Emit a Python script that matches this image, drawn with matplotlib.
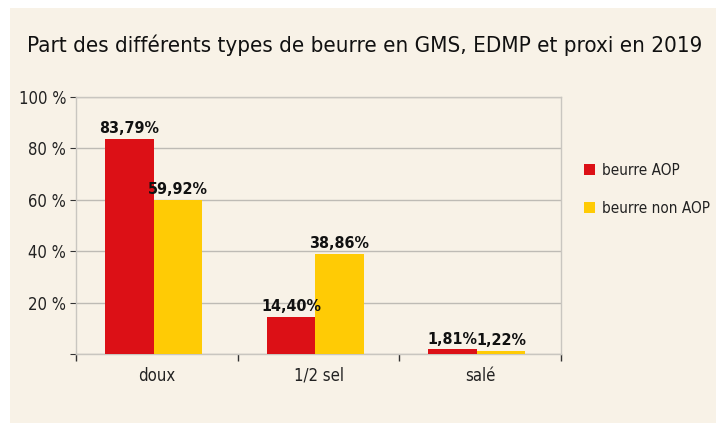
import numpy as np
import matplotlib.pyplot as plt
from matplotlib.patches import Rectangle

# données
categories = ["doux", "1/2 sel", "salé"]
aop = [83.79, 14.40, 1.81]
non_aop = [59.92, 38.86, 1.22]
aop_labels = ["83,79%", "14,40%", "1,81%"]
non_aop_labels = ["59,92%", "38,86%", "1,22%"]
series_names = ["beurre AOP", "beurre non AOP"]
yticks = [0, 20, 40, 60, 80, 100]
ytick_labels = ["", "20 %", "40 %", "60 %", "80 %", "100 %"]

BG = "#F8F2E7"
RED = "#DC1016"
YELLOW = "#FFCB05"
GRID = "#BEBBB5"

plt.rcParams["font.family"] = ["DejaVu Sans"]
plt.rcParams["font.stretch"] = "condensed"

fig = plt.figure(figsize=(7.16, 4.23), dpi=100)
fig.patch.set_facecolor("white")
bg = Rectangle((10 / 716, 0), 1, (423 - 8) / 423, transform=fig.transFigure,
               facecolor=BG, edgecolor="none", zorder=-10)
fig.add_artist(bg)

fig.text(27 / 716, 1 - 45 / 423, "Part des différents types de beurre en GMS, EDMP et proxi en 2019",
         fontsize=16, color="#111111", va="center", ha="left")

ax = fig.add_axes([76 / 716, (423 - 354) / 423, 485 / 716, 257 / 423])
ax.set_facecolor(BG)

x = np.arange(len(categories))
w = 0.3
b1 = ax.bar(x - w / 2 - 0.02, aop, w, color=RED, label=series_names[0], zorder=3)
b2 = ax.bar(x + w / 2 - 0.02, non_aop, w, color=YELLOW, label=series_names[1], zorder=3)

for bars, labels in ((b1, aop_labels), (b2, non_aop_labels)):
    for bar, lab in zip(bars, labels):
        ax.annotate(lab, (bar.get_x() + bar.get_width() / 2, bar.get_height()),
                    xytext=(0, 2), textcoords="offset points", ha="center", va="bottom",
                    fontsize=11.5, fontweight="bold", color="#111111", zorder=4)

ax.set_xlim(-0.5, 2.5)
ax.set_ylim(0, 100)
ax.set_yticks(yticks)
ax.set_yticklabels(ytick_labels)
ax.yaxis.grid(True, color=GRID, linewidth=1, zorder=1)
ax.tick_params(axis="y", length=4, color="#333333", labelsize=12, labelcolor="#222222", pad=3)

ax.set_xticks(x)
ax.set_xticklabels(categories)
ax.set_xticks([-0.5, 0.5, 1.5, 2.5], minor=True)
ax.tick_params(axis="x", which="major", length=0, labelsize=12, labelcolor="#222222", pad=9)
ax.tick_params(axis="x", which="minor", length=5, color="#333333", width=1)

for s in ax.spines.values():
    s.set_color("#C9C6C0")
    s.set_linewidth(1)

leg = fig.legend(loc="upper left", bbox_to_anchor=(578 / 716, 1 - 157 / 423),
                 frameon=False, fontsize=11, handlelength=0.7, handleheight=0.7,
                 handletextpad=0.45, labelspacing=1.5, borderaxespad=0)
for t in leg.get_texts():
    t.set_color("#222222")

fig.savefig("out.png", dpi=100, facecolor=fig.get_facecolor())
